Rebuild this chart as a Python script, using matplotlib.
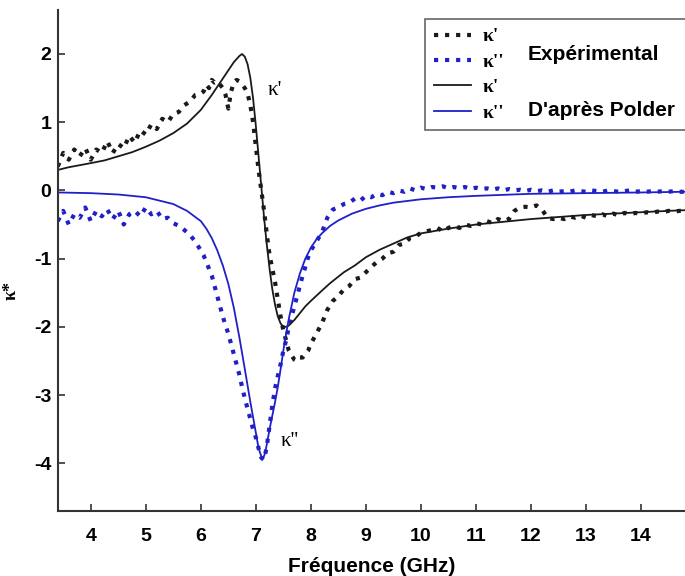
import numpy as np
import matplotlib
matplotlib.use("Agg")
import matplotlib.pyplot as plt

plt.rcParams['axes.unicode_minus'] = False

f_exp = np.round(np.concatenate([np.arange(3.4, 6.001, 0.1),
                                 np.arange(6.05, 8.001, 0.05),
                                 np.arange(8.1, 14.801, 0.1)]), 2)

k1_exp = [0.35, 0.55, 0.45, 0.6, 0.5, 0.62, 0.45, 0.6, 0.55, 0.72,
          0.55, 0.68, 0.62, 0.8, 0.7, 0.88, 0.82, 0.97, 0.9, 1.05,
          1.0, 1.12, 1.15, 1.25, 1.3, 1.4, 1.42,
          1.45, 1.55, 1.5, 1.62, 1.58, 1.6, 1.55, 1.5, 1.4, 1.2,
          1.45, 1.58, 1.62, 1.6, 1.55, 1.5, 1.42, 1.25, 1.0, 0.65,
          0.3, 0.0, -0.3, -0.65, -0.95, -1.15, -1.35, -1.6, -1.85, -2.05,
          -2.2, -2.35, -2.42, -2.48, -2.5, -2.45, -2.45, -2.4, -2.35, -2.25,
          -2.1, -1.95, -1.75, -1.62, -1.55, -1.45, -1.4, -1.3, -1.28, -1.2,
          -1.12, -1.05, -1.0, -0.92, -0.9, -0.8, -0.78, -0.7, -0.68, -0.62,
          -0.6, -0.58, -0.55, -0.6, -0.55, -0.52, -0.55, -0.5, -0.52, -0.48,
          -0.5, -0.45, -0.48, -0.42, -0.45, -0.42, -0.3, -0.25, -0.24, -0.25,
          -0.22, -0.28, -0.4, -0.42, -0.4, -0.42, -0.38, -0.4, -0.37, -0.4,
          -0.36, -0.38, -0.35, -0.38, -0.34, -0.37, -0.33, -0.35, -0.33, -0.34,
          -0.32, -0.33, -0.31, -0.32, -0.3, -0.31, -0.3, -0.3]

k2_exp = [-0.45, -0.3, -0.5, -0.35, -0.4, -0.25, -0.45, -0.3, -0.38, -0.28,
          -0.42, -0.3, -0.5, -0.35, -0.3, -0.38, -0.25, -0.35, -0.3, -0.42,
          -0.4, -0.48, -0.52, -0.58, -0.65, -0.75, -0.88,
          -0.95, -1.05, -1.15, -1.25, -1.4, -1.55, -1.7, -1.85, -1.98, -2.1,
          -2.25, -2.4, -2.55, -2.7, -2.88, -3.05, -3.2, -3.35, -3.5, -3.62,
          -3.78, -3.92, -3.95, -3.75, -3.45, -3.15, -2.9, -2.72, -2.55, -2.35,
          -2.2, -2.0, -1.85, -1.7, -1.55, -1.4, -1.25, -1.12, -0.98, -0.88,
          -0.75, -0.62, -0.4, -0.28, -0.25, -0.2, -0.18, -0.12, -0.15, -0.08,
          -0.1, -0.05, -0.07, -0.02, -0.04, 0.0, -0.02, 0.03, 0.0, 0.04,
          0.02, 0.05, 0.04, 0.06, 0.03, 0.05, 0.03, 0.05, 0.02, 0.04,
          0.02, 0.03, 0.01, 0.03, 0.0, 0.02, 0.0, 0.01, -0.01, 0.01,
          -0.01, 0.0, -0.02, 0.0, -0.02, -0.01, -0.02, 0.0, -0.01, -0.02,
          0.0, -0.01, -0.02, 0.0, -0.01, -0.02, -0.01, 0.0, -0.02, -0.01,
          -0.02, -0.01, -0.02, -0.01, -0.02, -0.01, -0.02, -0.02]

# Polder model curves
f_k1 = [3.4, 3.6, 3.8, 4.0, 4.25, 4.5, 4.75, 5.0, 5.25, 5.5, 5.75, 6.0, 6.2,
        6.4, 6.5, 6.6, 6.7, 6.75, 6.8, 6.85, 6.9, 6.95, 7.0, 7.05, 7.1, 7.15,
        7.2, 7.25, 7.3, 7.35, 7.4, 7.45, 7.5, 7.55, 7.6, 7.7, 7.8, 7.9, 8.0,
        8.2, 8.35, 8.6, 8.8, 9.0, 9.25, 9.5, 9.75, 10.0, 10.5, 11.0, 11.5,
        12.0, 12.5, 13.0, 13.5, 14.0, 14.5, 14.8]
k1_polder = [0.3, 0.34, 0.37, 0.4, 0.44, 0.5, 0.56, 0.64, 0.73, 0.84, 0.98,
             1.18, 1.4, 1.64, 1.76, 1.88, 1.97, 2.0, 1.96, 1.85, 1.65, 1.35,
             0.95, 0.5, 0.05, -0.4, -0.8, -1.15, -1.45, -1.68, -1.85, -1.95,
             -2.0, -2.0, -1.98, -1.9, -1.8, -1.7, -1.62, -1.47, -1.36, -1.2,
             -1.1, -0.98, -0.87, -0.78, -0.69, -0.63, -0.56, -0.5, -0.46,
             -0.42, -0.39, -0.36, -0.34, -0.32, -0.3, -0.29]

f_k2 = [3.4, 4.0, 4.5, 5.0, 5.5, 5.75, 6.0, 6.1, 6.2, 6.3, 6.4, 6.5, 6.6,
        6.7, 6.8, 6.9, 7.0, 7.05, 7.1, 7.13, 7.17, 7.2, 7.25, 7.3, 7.35, 7.4,
        7.45, 7.5, 7.55, 7.6, 7.7, 7.8, 7.9, 8.0, 8.1, 8.2, 8.35, 8.5, 8.75,
        9.0, 9.25, 9.5, 10.0, 10.5, 11.0, 12.0, 13.0, 14.0, 14.8]
k2_polder = [-0.03, -0.04, -0.06, -0.1, -0.2, -0.3, -0.45, -0.56, -0.7,
             -0.88, -1.1, -1.37, -1.72, -2.15, -2.62, -3.1, -3.55, -3.78,
             -3.9, -3.93, -3.85, -3.72, -3.5, -3.3, -3.1, -2.88, -2.62,
             -2.35, -2.1, -1.88, -1.5, -1.22, -1.0, -0.84, -0.72, -0.63,
             -0.52, -0.44, -0.34, -0.27, -0.22, -0.18, -0.13, -0.1, -0.08,
             -0.05, -0.04, -0.03, -0.02]

assert len(f_exp) == len(k1_exp) == len(k2_exp)
assert len(f_k1) == len(k1_polder) and len(f_k2) == len(k2_polder)

BLACK = '#1a1a1a'
BLUE = '#2020c8'
SANS = ['Liberation Sans Narrow', 'Liberation Sans', 'DejaVu Sans']
SERIF = ['Liberation Serif', 'DejaVu Serif']

fig = plt.figure(figsize=(6.85, 5.76), dpi=100)
ax = fig.add_axes([58.3 / 685, 65 / 576, 1 - 58.3 / 685, 501 / 576])

ax.plot(f_exp, k1_exp, ':', color=BLACK, lw=3, label="κ'")
ax.plot(f_exp, k2_exp, ':', color=BLUE, lw=3, label="κ''")
ax.plot(f_k1, k1_polder, '-', color=BLACK, lw=1.3, label="κ'")
ax.plot(f_k2, k2_polder, '-', color=BLUE, lw=1.3, label="κ''")

ax.set_xlim(3.41, 14.8)
ax.set_ylim(-4.7, 2.645)
ax.set_xticks(range(4, 15))
ax.set_yticks(range(-4, 3))

for s in ('top', 'right'):
    ax.spines[s].set_visible(False)
for s in ('left', 'bottom'):
    ax.spines[s].set_linewidth(1.5)
    ax.spines[s].set_color('#333333')

ax.tick_params(direction='in', length=5, width=1.2, color='#333333')
ax.tick_params(axis='x', pad=12)
ax.tick_params(axis='y', pad=5)
for lab in ax.get_xticklabels() + ax.get_yticklabels():
    lab.set_family(SANS)
    lab.set_fontweight('bold')
    lab.set_fontsize(14)

ax.set_xlabel('Fréquence (GHz)', family=SANS, fontweight='bold', fontsize=15, labelpad=9)
ax.set_ylabel('κ*', family=SERIF, fontweight='bold', fontsize=13)
ax.yaxis.set_label_coords(-0.061, 0.44)

ax.text(7.35, 1.47, "κ'", family=SERIF, fontsize=15, ha='center', va='center')
ax.text(7.62, -3.68, "κ''", family=SERIF, fontsize=15, ha='center', va='center')

leg = ax.legend(loc='upper left', bbox_to_anchor=(0.585, 0.745, 0.45, 0.237),
                mode='expand', prop={'family': SERIF, 'weight': 'bold', 'size': 14},
                handlelength=1.9, handletextpad=0.6, labelspacing=0.4,
                borderpad=0.45, borderaxespad=0, fancybox=False, framealpha=1)
leg.get_frame().set_edgecolor('#666666')
leg.get_frame().set_linewidth(1.2)
leg.set_zorder(5)

ax.text(0.749, 0.912, 'Expérimental', transform=ax.transAxes, family=SANS,
        fontweight='bold', fontsize=15, va='center', zorder=10)
ax.text(0.749, 0.8, "D'après Polder", transform=ax.transAxes, family=SANS,
        fontweight='bold', fontsize=15, va='center', zorder=10)

fig.savefig('out.png', dpi=100)
